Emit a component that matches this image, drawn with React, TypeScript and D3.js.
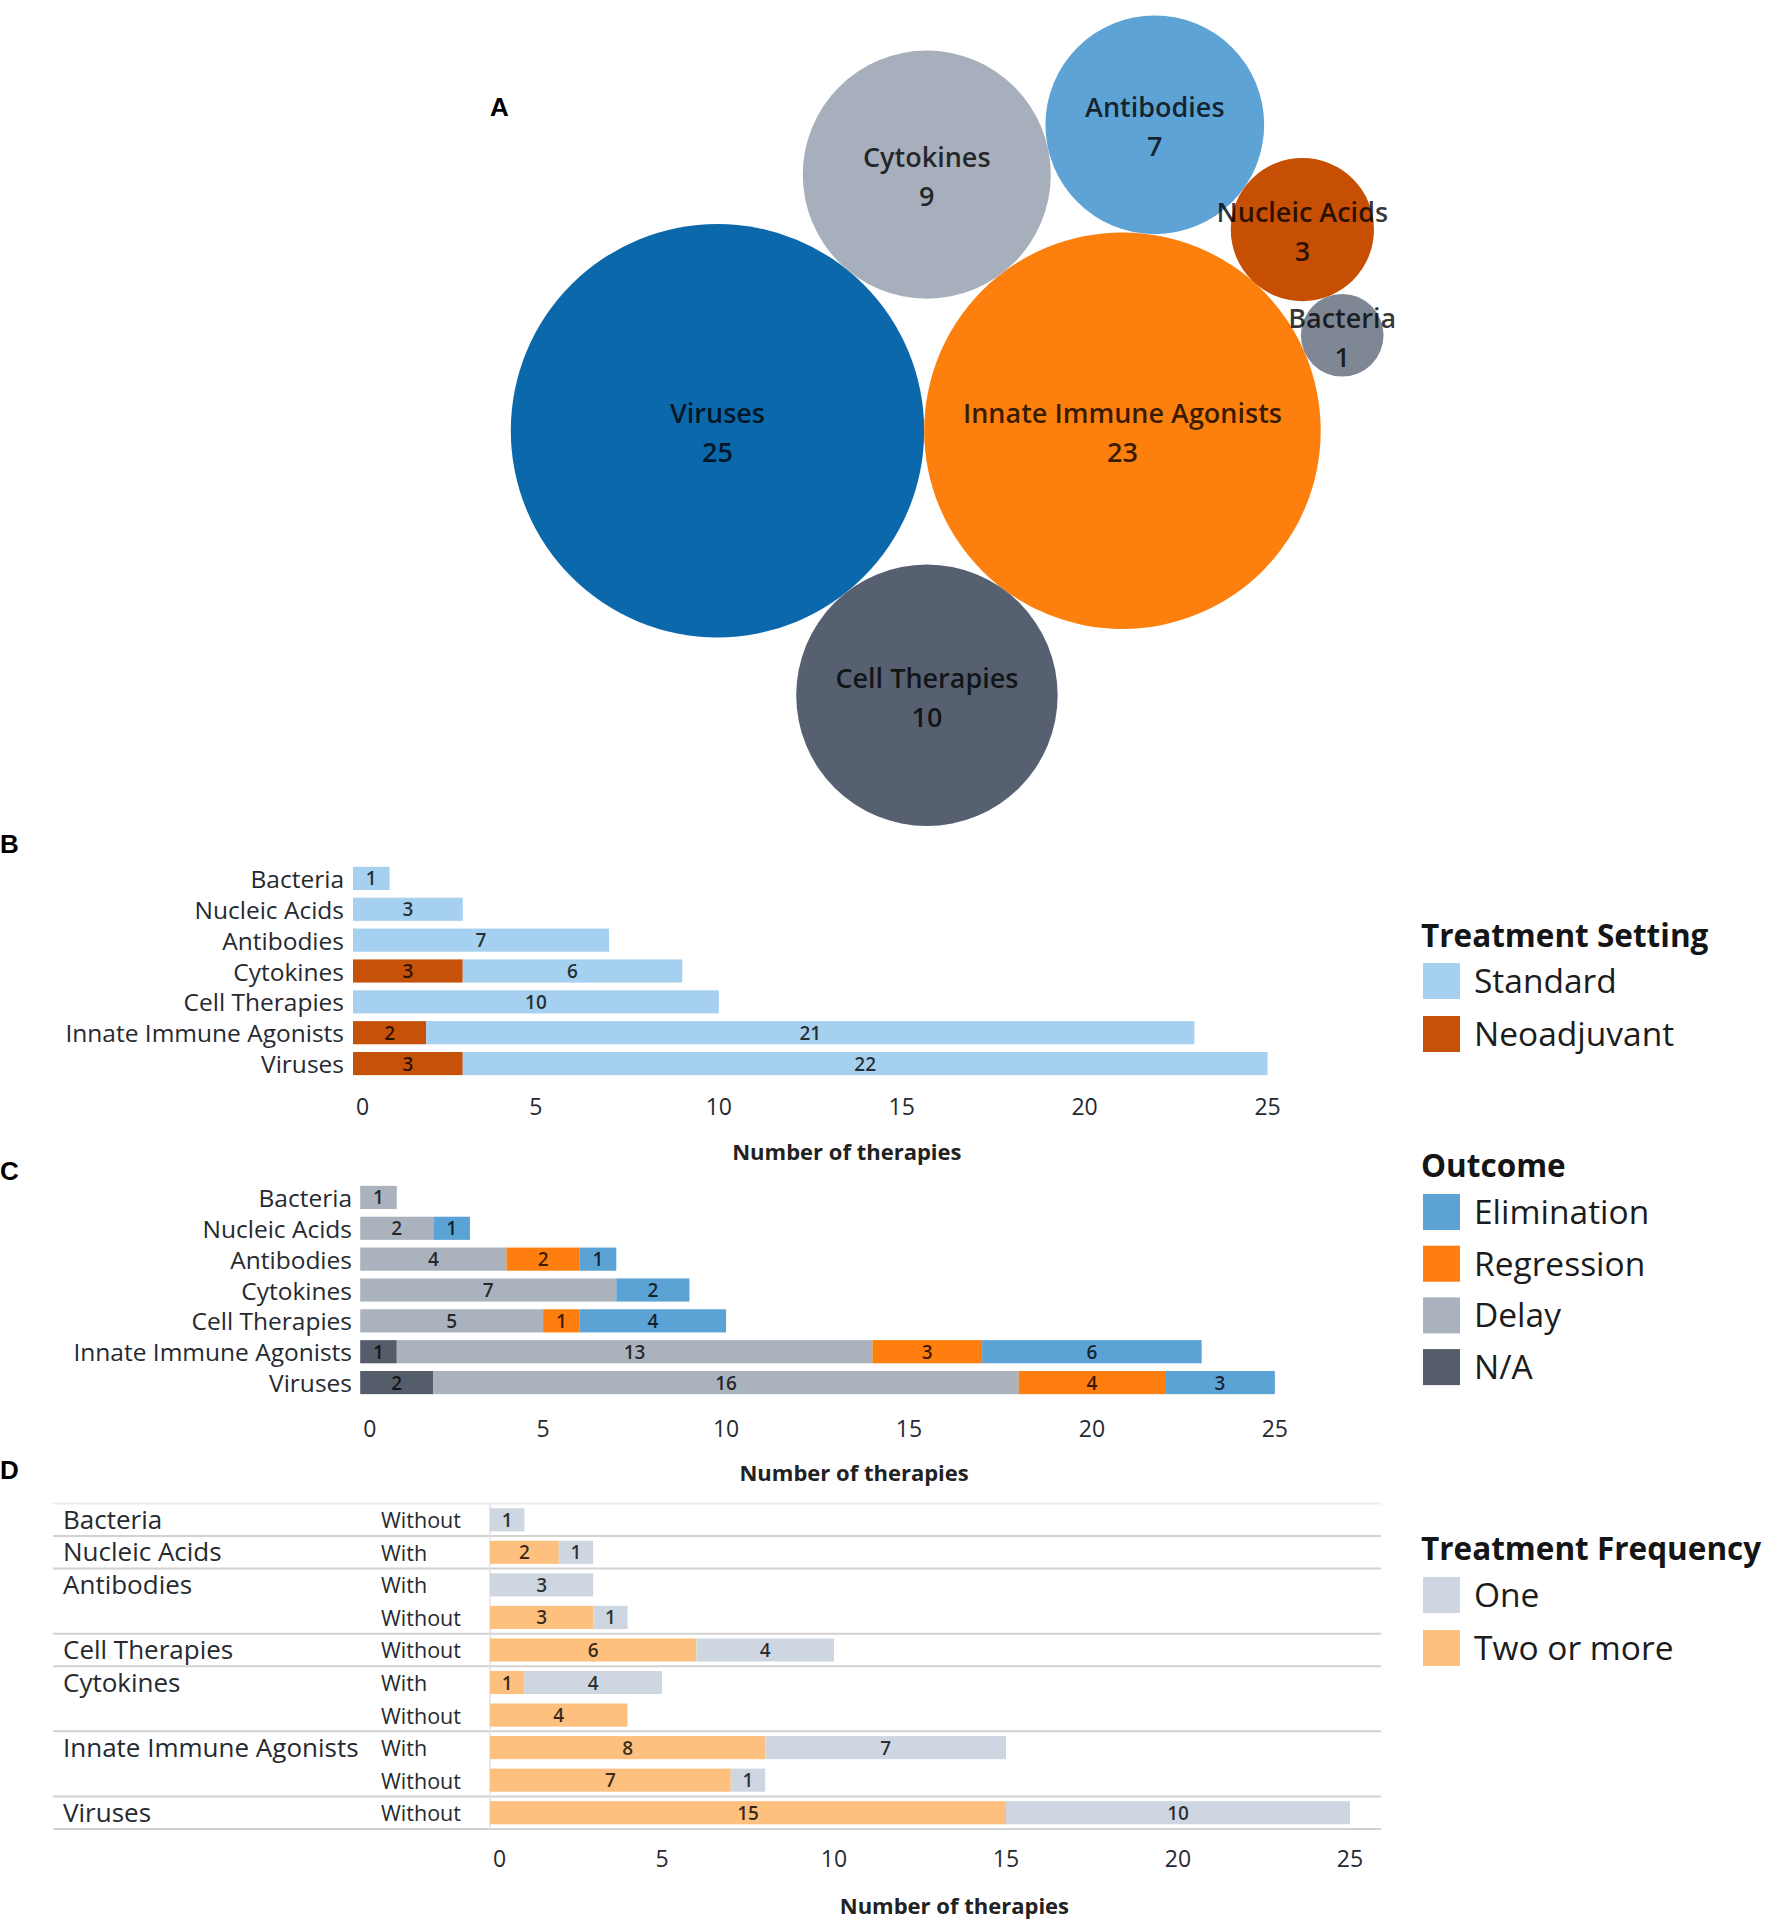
import React, { useEffect, useRef } from 'react';
import * as d3 from 'd3';

// ---- Panel A: packed bubbles ----
const bubbleNames = ['Viruses', 'Innate Immune Agonists', 'Cell Therapies', 'Cytokines', 'Antibodies', 'Nucleic Acids', 'Bacteria'];
const bubbleValues = [25, 23, 10, 9, 7, 3, 1];
const bubbleColors = ['#0b68ab', '#fd7f0d', '#566070', '#a6afbb', '#5ea3d5', '#c64f04', '#7f8794'];
// each bubble after the first two touches two earlier ones: [name, touchesA, touchesB, side]
const packRules: [string, string, string, number][] = [
    ['Cell Therapies', 'Viruses', 'Innate Immune Agonists', 1],
    ['Cytokines', 'Viruses', 'Innate Immune Agonists', -1],
    ['Antibodies', 'Cytokines', 'Innate Immune Agonists', -1],
    ['Nucleic Acids', 'Antibodies', 'Innate Immune Agonists', -1],
    ['Bacteria', 'Nucleic Acids', 'Innate Immune Agonists', -1],
];

// ---- Panels B and C ----
const categories = ['Bacteria', 'Nucleic Acids', 'Antibodies', 'Cytokines', 'Cell Therapies', 'Innate Immune Agonists', 'Viruses'];
const neoadjuvant = [0, 0, 0, 3, 0, 2, 3];
const standard = [1, 3, 7, 6, 10, 21, 22];

const outcomeNA = [0, 0, 0, 0, 0, 1, 2];
const outcomeDelay = [1, 2, 4, 7, 5, 13, 16];
const outcomeRegression = [0, 0, 2, 0, 1, 3, 4];
const outcomeElimination = [0, 1, 1, 2, 4, 6, 3];

// ---- Panel D ----
const freqCategories = ['Bacteria', 'Nucleic Acids', 'Antibodies', 'Antibodies', 'Cell Therapies', 'Cytokines', 'Cytokines', 'Innate Immune Agonists', 'Innate Immune Agonists', 'Viruses'];
const freqCombination = ['Without', 'With', 'With', 'Without', 'Without', 'With', 'Without', 'With', 'Without', 'Without'];
const freqTwoOrMore = [0, 2, 0, 3, 6, 1, 4, 8, 7, 15];
const freqOne = [1, 1, 3, 1, 4, 4, 0, 7, 1, 10];

const axisTicks = [0, 5, 10, 15, 20, 25];

const FONT = "'Open Sans', 'Noto Sans', sans-serif";
const LABEL = '#262a30';

type Circle = { name: string; value: number; r: number; x: number; y: number; color: string };

// circle of radius r touching a and b, on one side of a->b
function tangent(a: Circle, b: Circle, r: number, side: number) {
    const dx = b.x - a.x, dy = b.y - a.y;
    const d = Math.hypot(dx, dy);
    const ra = a.r + r, rb = b.r + r;
    const t = (d * d + ra * ra - rb * rb) / (2 * d);
    const h = Math.sqrt(Math.max(0, ra * ra - t * t));
    const ux = dx / d, uy = dy / d;
    return { x: a.x + ux * t - side * uy * h, y: a.y + uy * t + side * ux * h };
}

const App: React.FC = () => {
    const svgRef = useRef<SVGSVGElement>(null);

    useEffect(() => {
        if (!svgRef.current) return;
        document.body.style.margin = '0';
        const svg = d3.select(svgRef.current);
        svg.selectAll('*').remove();
        svg.style('font-family', FONT);

        const letter = (t: string, x: number, y: number) =>
            svg.append('text').attr('x', x).attr('y', y)
                .attr('font-family', "'Liberation Sans', Arial, sans-serif")
                .attr('font-weight', 'bold').attr('font-size', 26).attr('fill', '#000').text(t);

        // ============ A ============
        letter('A', 490, 116);
        const rScale = d3.scaleSqrt().domain([0, 25]).range([0, 206.7]);
        const bubbles: Circle[] = bubbleNames.map((name, i) => ({
            name, value: bubbleValues[i], r: rScale(bubbleValues[i]), x: 0, y: 0, color: bubbleColors[i],
        }));
        const byName = new Map(bubbles.map(b => [b.name, b]));
        bubbles[1].x = bubbles[0].r + bubbles[1].r;
        packRules.forEach(([name, a, b, side]) => {
            const c = byName.get(name)!;
            const p = tangent(byName.get(a)!, byName.get(b)!, c.r, side);
            c.x = p.x; c.y = p.y;
        });
        const gA = svg.append('g').attr('transform', `translate(${717.5},${430.7})`);
        const node = gA.selectAll('g.bubble').data(bubbles).enter().append('g')
            .attr('transform', d => `translate(${d.x},${d.y})`);
        node.append('circle').attr('r', d => d.r).attr('fill', d => d.color);
        node.append('text').attr('y', -18).attr('text-anchor', 'middle').attr('dominant-baseline', 'central')
            .attr('font-size', 27).attr('font-weight', 600).attr('fill', '#000').attr('fill-opacity', 0.78)
            .text(d => d.name);
        node.append('text').attr('y', 21).attr('text-anchor', 'middle').attr('dominant-baseline', 'central')
            .attr('font-size', 27).attr('font-weight', 600).attr('fill', '#000').attr('fill-opacity', 0.78)
            .text(d => String(d.value));

        // ============ shared helpers ============
        const drawAxis = (x: d3.ScaleLinear<number, number>, tickY: number, titleY: number) => {
            const g = svg.append('g');
            g.selectAll('text.tick').data(axisTicks).enter().append('text')
                .attr('x', d => d === 0 ? x(d) + 3 : x(d))
                .attr('y', tickY)
                .attr('text-anchor', d => d === 0 ? 'start' : 'middle')
                .attr('dominant-baseline', 'central')
                .attr('font-size', 23).attr('fill', LABEL).text(d => String(d));
            const [d0, d1] = x.domain();
            g.append('text').attr('x', (x(d0) + x(d1)) / 2).attr('y', titleY)
                .attr('text-anchor', 'middle').attr('dominant-baseline', 'central')
                .attr('font-size', 22).attr('font-weight', 'bold').attr('fill', '#222')
                .text('Number of therapies');
        };

        const drawStack = (
            rows: string[], keys: string[], table: Record<string, number>[],
            colors: Record<string, string>, x: d3.ScaleLinear<number, number>, y: d3.ScaleBand<string>,
        ) => {
            const series = d3.stack<Record<string, number>>().keys(keys)(table);
            const g = svg.append('g');
            series.forEach(s => {
                s.forEach((seg, i) => {
                    const v = seg[1] - seg[0];
                    if (v <= 0) return;
                    const y0 = y(rows[i])!;
                    g.append('rect').attr('x', x(seg[0])).attr('y', y0)
                        .attr('width', x(seg[1]) - x(seg[0])).attr('height', y.bandwidth())
                        .attr('fill', colors[s.key]);
                    g.append('text').attr('x', (x(seg[0]) + x(seg[1])) / 2).attr('y', y0 + y.bandwidth() / 2)
                        .attr('text-anchor', 'middle').attr('dominant-baseline', 'central')
                        .attr('font-size', 19).attr('font-weight', 600)
                        .attr('fill', '#000').attr('fill-opacity', 0.78).text(String(v));
                });
            });
        };

        const drawLegend = (title: string, x: number, titleY: number, items: string[], colors: Record<string, string>, top: number, step: number) => {
            const g = svg.append('g');
            g.append('text').attr('x', x).attr('y', titleY).attr('font-size', 31.5).attr('font-weight', 'bold')
                .attr('fill', '#151515').text(title);
            items.forEach((it, i) => {
                g.append('rect').attr('x', x + 2).attr('y', top + i * step).attr('width', 37).attr('height', 36)
                    .attr('fill', colors[it]);
                g.append('text').attr('x', x + 53).attr('y', top + i * step + 30).attr('font-size', 33.5)
                    .attr('fill', '#1c1c1c').text(it);
            });
        };

        // ============ B ============
        letter('B', 0, 853);
        const xB = d3.scaleLinear().domain([0, 27]).range([353, 1340.7]);
        const yB = d3.scaleBand<string>().domain(categories).range([863, 1079]).paddingInner(0.25).paddingOuter(0.125);
        const setColors = { Standard: '#a6d0ef', Neoadjuvant: '#c65108' };
        const tableB = categories.map((c, i) => ({ Neoadjuvant: neoadjuvant[i], Standard: standard[i] }));
        svg.append('g').selectAll('text').data(categories).enter().append('text')
            .attr('x', 344).attr('y', d => yB(d)! + yB.bandwidth() / 2)
            .attr('text-anchor', 'end').attr('dominant-baseline', 'central')
            .attr('font-size', 24.5).attr('fill', LABEL).text(d => d);
        drawStack(categories, ['Neoadjuvant', 'Standard'], tableB, setColors, xB, yB);
        drawAxis(xB, 1106, 1151);
        drawLegend('Treatment Setting', 1421, 947, ['Standard', 'Neoadjuvant'], setColors, 963, 53);

        // ============ C ============
        letter('C', 0, 1180);
        const xC = d3.scaleLinear().domain([0, 27]).range([360.2, 1348]);
        const yC = d3.scaleBand<string>().domain(categories).range([1182, 1398]).paddingInner(0.25).paddingOuter(0.125);
        const outColors = { Elimination: '#5ba2d5', Regression: '#fe7f0f', Delay: '#aab2bd', 'N/A': '#545d69' };
        const tableC = categories.map((c, i) => ({
            'N/A': outcomeNA[i], Delay: outcomeDelay[i], Regression: outcomeRegression[i], Elimination: outcomeElimination[i],
        }));
        svg.append('g').selectAll('text').data(categories).enter().append('text')
            .attr('x', 352).attr('y', d => yC(d)! + yC.bandwidth() / 2)
            .attr('text-anchor', 'end').attr('dominant-baseline', 'central')
            .attr('font-size', 24.5).attr('fill', LABEL).text(d => d);
        drawStack(categories, ['N/A', 'Delay', 'Regression', 'Elimination'], tableC, outColors, xC, yC);
        drawAxis(xC, 1427.5, 1472);
        drawLegend('Outcome', 1421, 1177, ['Elimination', 'Regression', 'Delay', 'N/A'], outColors, 1194, 51.7);

        // ============ D ============
        letter('D', 0, 1479);
        const rowIds = freqCategories.map((_, i) => String(i));
        const xD = d3.scaleLinear().domain([0, 27]).range([490, 1418.8]);
        const yD = d3.scaleBand<string>().domain(rowIds).range([1503.5, 1829]).paddingInner(0.29).paddingOuter(0.145);
        const step = yD.step();
        const freqColors = { One: '#ced7e1', 'Two or more': '#fdc07f' };
        const tableD = freqCategories.map((c, i) => ({ 'Two or more': freqTwoOrMore[i], One: freqOne[i] }));

        const gD = svg.append('g');
        // group separators
        const bounds = freqCategories.map((c, i) => (i === 0 || c !== freqCategories[i - 1]) ? i : -1).filter(i => i >= 0);
        bounds.push(freqCategories.length);
        gD.selectAll('line.sep').data(bounds).enter().append('line')
            .attr('x1', 53).attr('x2', 1381)
            .attr('y1', i => 1503.5 + i * step).attr('y2', i => 1503.5 + i * step)
            .attr('stroke', i => i === 0 ? '#ebebeb' : '#d2d2d2').attr('stroke-width', 2);
        gD.append('line').attr('x1', xD(0)).attr('x2', xD(0)).attr('y1', 1503.5).attr('y2', 1829)
            .attr('stroke', '#e0e0e0').attr('stroke-width', 1.5);
        gD.selectAll('text.cat').data(bounds.slice(0, -1)).enter().append('text')
            .attr('x', 63).attr('y', i => yD(String(i))! + yD.bandwidth() / 2 - 1)
            .attr('dominant-baseline', 'central').attr('font-size', 26).attr('fill', LABEL)
            .text(i => freqCategories[i]);
        gD.selectAll('text.sub').data(rowIds).enter().append('text')
            .attr('x', 381).attr('y', d => yD(d)! + yD.bandwidth() / 2)
            .attr('dominant-baseline', 'central').attr('font-size', 21.5).attr('fill', LABEL)
            .text((d, i) => freqCombination[i]);
        drawStack(rowIds, ['Two or more', 'One'], tableD, freqColors, xD, yD);
        drawAxis(xD, 1858, 1905);
        drawLegend('Treatment Frequency', 1421, 1560, ['One', 'Two or more'], freqColors, 1577, 53);
    }, []);

    return (
        <div style={{ position: 'absolute', left: 0, top: 0 }}>
            <svg ref={svgRef} width={1772} height={1928} style={{ display: 'block', background: '#fff' }} />
        </div>
    );
};

export default App;
